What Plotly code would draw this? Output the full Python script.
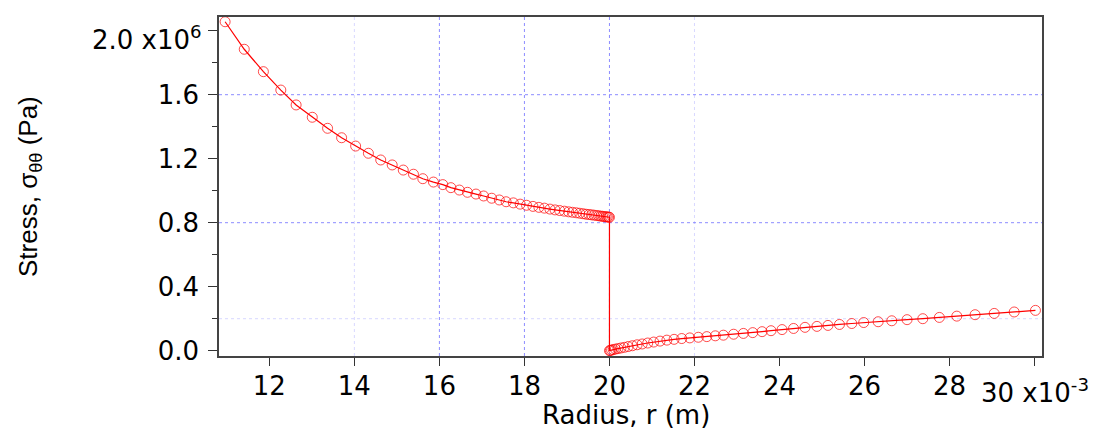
import plotly.graph_objects as go

# Hoop stress through the two-layer cylinder wall (radius in 1e-3 m, stress in 1e6 Pa)
radius_mm = [
    10.96, 11.41, 11.86, 12.27, 12.63, 13.01, 13.37, 13.70, 14.03, 14.33,
    14.62, 14.89, 15.15, 15.39, 15.61, 15.86, 16.08, 16.27, 16.47, 16.66,
    16.86, 17.04, 17.23, 17.41, 17.57, 17.74, 17.90, 18.05, 18.20, 18.34,
    18.47, 18.60, 18.72, 18.83, 18.94, 19.04, 19.13, 19.22, 19.30, 19.38,
    19.45, 19.52, 19.58, 19.64, 19.70, 19.75, 19.80, 19.84, 19.88, 19.92,
    19.95, 19.98, 20.00,
    20.00, 20.02, 20.05, 20.09, 20.14, 20.20, 20.27, 20.35, 20.44, 20.54,
    20.65, 20.77, 20.90, 21.04, 21.19, 21.35, 21.52, 21.70, 21.89, 22.09,
    22.29, 22.49, 22.68, 22.92, 23.15, 23.37, 23.59, 23.80, 24.06, 24.33,
    24.60, 24.88, 25.14, 25.41, 25.70, 25.98, 26.32, 26.64, 27.00, 27.37,
    27.76, 28.17, 28.60, 29.05, 29.52, 30.02,
]
stress_mpa = [
    2.056, 1.884, 1.744, 1.629, 1.536, 1.459, 1.390, 1.331, 1.279, 1.234,
    1.192, 1.161, 1.129, 1.103, 1.075, 1.054, 1.038, 1.019, 1.004, 0.990,
    0.979, 0.967, 0.953, 0.942, 0.931, 0.924, 0.916, 0.909, 0.902, 0.896,
    0.891, 0.885, 0.880, 0.876, 0.872, 0.868, 0.865, 0.862, 0.859, 0.856,
    0.853, 0.851, 0.849, 0.847, 0.845, 0.843, 0.841, 0.840, 0.838, 0.837,
    0.836, 0.835, 0.834,
    0.000, 0.002, 0.004, 0.007, 0.010, 0.013, 0.017, 0.021, 0.026, 0.031,
    0.037, 0.042, 0.048, 0.054, 0.060, 0.066, 0.071, 0.076, 0.080, 0.084,
    0.088, 0.093, 0.097, 0.103, 0.108, 0.113, 0.119, 0.125, 0.132, 0.139,
    0.146, 0.152, 0.158, 0.164, 0.170, 0.176, 0.181, 0.187, 0.194, 0.200,
    0.208, 0.216, 0.225, 0.233, 0.242, 0.252,
]

x_tickvals = [12, 14, 16, 18, 20, 22, 24, 26, 28, 30]
x_ticktext = ["12", "14", "16", "18", "20", "22", "24", "26", "28", ""]
x_last_label = "30 x10<sup>-3</sup>"
y_tickvals = [0.0, 0.4, 0.8, 1.2, 1.6, 2.0]
y_ticktext = ["0.0", "0.4", "0.8", "1.2", "1.6", ""]
y_last_label = "2.0 x10<sup>6</sup>"
y_minor_ticks = [0.2, 0.6, 1.0, 1.4, 1.8]

x_grid_strong = [16, 18, 20]
x_grid_faint = [14, 22]
y_grid_strong = [0.8, 1.6]
y_grid_faint = [0.2]

X_RANGE = [10.816, 30.174]
Y_RANGE = [-0.0331, 2.0856]

# plot area in pixels: left 219, right 1042, top 17, bottom 356
PL, PR, PT, PB = 219, 1042, 17, 356
PW, PH = PR - PL, PB - PT

fig = go.Figure()

fig.add_trace(go.Scatter(
    x=radius_mm, y=stress_mpa,
    mode="lines+markers",
    line=dict(color="#ff0000", width=1.2),
    marker=dict(symbol="circle-open", size=10,
                color="rgba(255,0,0,0.7)", line=dict(width=1)),
    showlegend=False,
))

strong = dict(color="rgba(120,120,255,0.85)", width=1, dash="dot")
faint = dict(color="rgba(190,190,255,0.6)", width=1, dash="dot")
shapes = []
for xv in x_grid_strong:
    shapes.append(dict(type="line", xref="x", yref="paper", x0=xv, x1=xv, y0=0, y1=1,
                       line=strong, layer="below"))
for xv in x_grid_faint:
    shapes.append(dict(type="line", xref="x", yref="paper", x0=xv, x1=xv, y0=0, y1=1,
                       line=faint, layer="below"))
for yv in y_grid_strong:
    shapes.append(dict(type="line", xref="paper", yref="y", x0=0, x1=1, y0=yv, y1=yv,
                       line=strong, layer="below"))
for yv in y_grid_faint:
    shapes.append(dict(type="line", xref="paper", yref="y", x0=0, x1=1, y0=yv, y1=yv,
                       line=faint, layer="below"))

tick_font = dict(family="DejaVu Sans", size=26, color="#000000")

fig.update_layout(
    width=1097, height=430,
    margin=dict(l=PL, r=1097 - PR, t=PT, b=430 - PB, pad=0),
    paper_bgcolor="white", plot_bgcolor="white",
    shapes=shapes,
    xaxis=dict(
        range=X_RANGE, showgrid=False, zeroline=False,
        tickmode="array", tickvals=x_tickvals, ticktext=x_ticktext,
        ticks="outside", ticklen=8, tickwidth=1.2, tickcolor="#333",
        showline=True, linecolor="#444", linewidth=1.5, mirror=True,
        tickfont=tick_font, ticklabelstandoff=-2,
    ),
    yaxis=dict(
        range=Y_RANGE, showgrid=False, zeroline=False,
        tickmode="array", tickvals=y_tickvals, ticktext=y_ticktext,
        ticks="outside", ticklen=9, tickwidth=1.2, tickcolor="#333",
        minor=dict(tickvals=y_minor_ticks, ticks="outside",
                   ticklen=5, tickwidth=1.2, tickcolor="#333"),
        showline=True, linecolor="#444", linewidth=1.5, mirror=True,
        tickfont=tick_font, ticklabelstandoff=4,
    ),
    annotations=[
        dict(text=x_last_label, xref="x", yref="paper",
             x=x_tickvals[-1], y=-(372 - PB) / PH,
             xanchor="center", yanchor="top", showarrow=False,
             font=tick_font),
        dict(text=y_last_label, xref="paper", yref="y",
             x=-(PL - 204) / PW, y=y_tickvals[-1], yshift=-7,
             xanchor="right", yanchor="middle", showarrow=False,
             font=tick_font),
        dict(text="Radius, r (m)", xref="paper", yref="paper",
             x=(626 - PL) / PW, y=-(415 - PB) / PH,
             xanchor="center", yanchor="middle", showarrow=False,
             font=dict(family="DejaVu Sans", size=26, color="#000000")),
        dict(text="Stress, σ<sub>θθ</sub> (Pa)", xref="paper", yref="paper",
             x=-(PL - 29) / PW, y=(PB - 187) / PH, textangle=-90,
             xanchor="center", yanchor="middle", showarrow=False,
             font=dict(family="Liberation Sans", size=26, color="#000000")),
    ],
)

fig.write_html("out.html")
